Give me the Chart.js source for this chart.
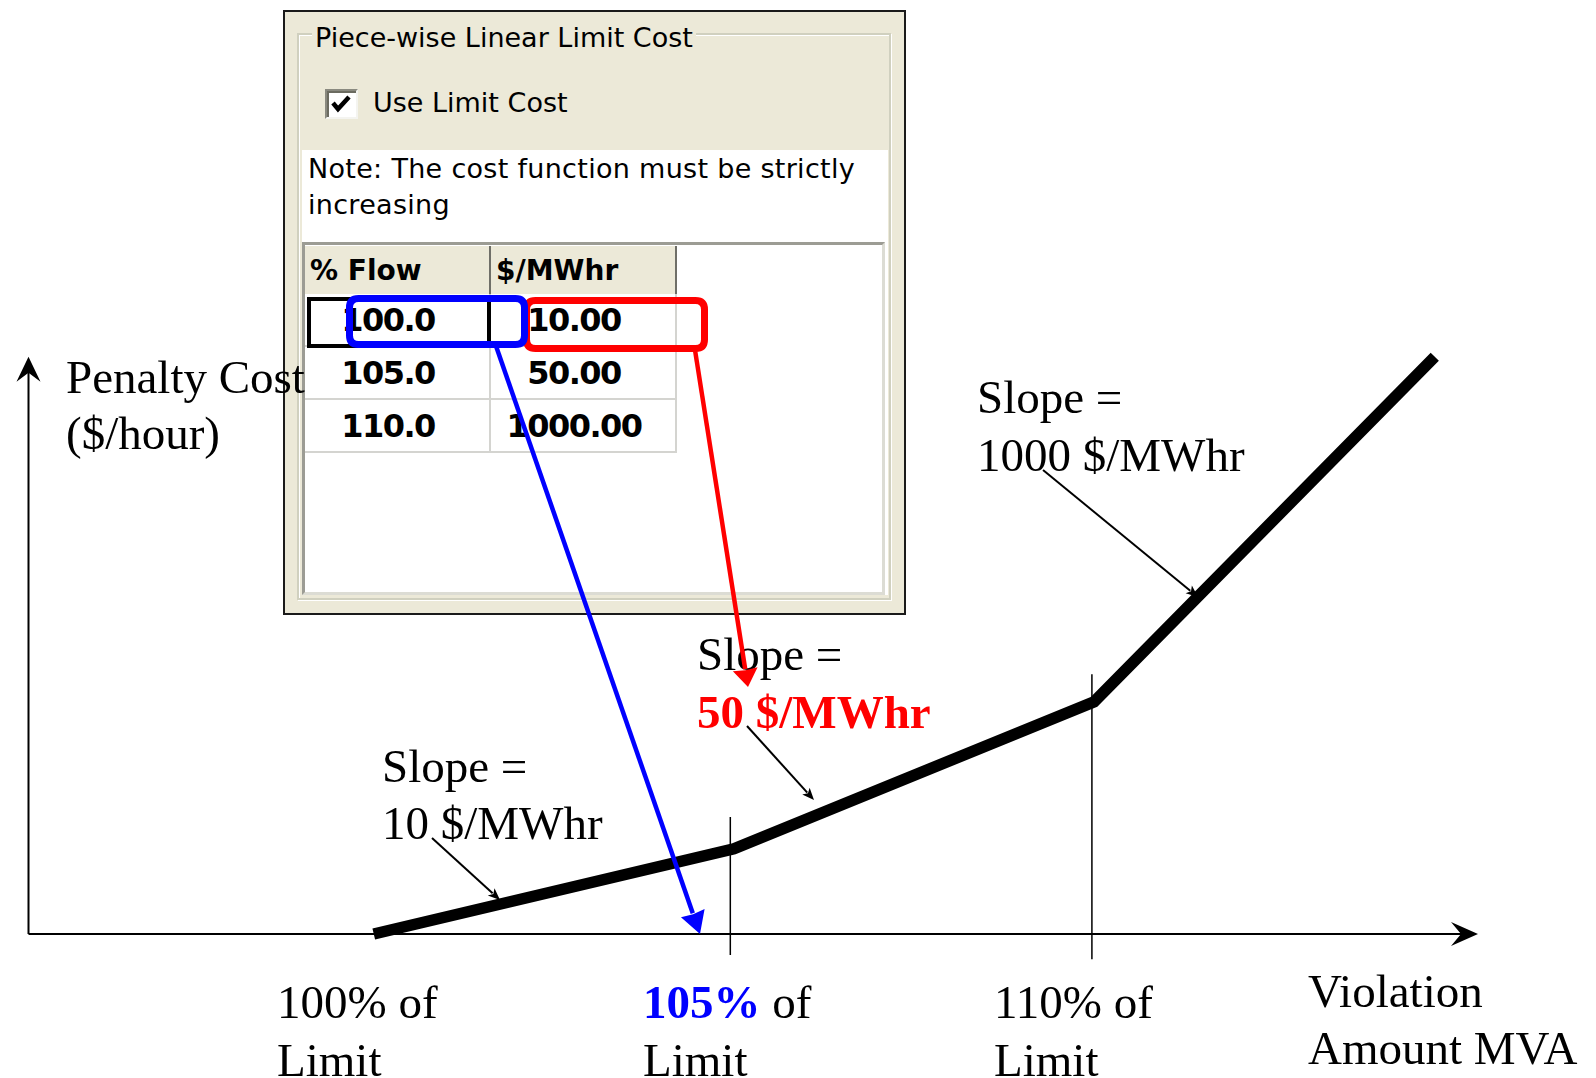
<!DOCTYPE html>
<html>
<head>
<meta charset="utf-8">
<script src="https://cdn.jsdelivr.net/npm/chart.js@4.4.1/dist/chart.umd.min.js"></script>
<style>
  html, body { margin: 0; padding: 0; background: #fff; }
  #wrap { position: relative; width: 1596px; height: 1078px; overflow: hidden; }
  #chart { position: absolute; left: 0; top: 0; z-index: 2; pointer-events: none; }
  .dlg { position: absolute; left: 283px; top: 10px; width: 619px; height: 601px;
         background: #ECE9D8; border: 2px solid #1a1a1a; z-index: 1;
         font-family: "DejaVu Sans", sans-serif; color: #000; }
  .dlg div { position: absolute; box-sizing: border-box; }
  .group { left: 12px; top: 21px; width: 594px; height: 567px;
           border: 2px solid #D0D0BF; box-shadow: inset 1px 1px 0 #fff, 1px 1px 0 #fff; }
  .title { left: 27px; top: 11px; height: 30px; line-height: 30px; font-size: 27px;
           padding: 0 3px; background: #ECE9D8; white-space: nowrap; }
  .chk { left: 40px; top: 77px; width: 33px; height: 30px; background: #fff;
         border: 2px solid; border-color: #8a8a80 #f4f4f0 #f4f4f0 #8a8a80;
         box-shadow: inset 2px 2px 0 #6b6b60; }
  .chklabel { left: 88px; top: 76px; line-height: 30px; font-size: 27px; white-space: nowrap; }
  .panel { left: 17px; top: 138px; width: 586px; height: 445px; background: #fff; }
  .note { left: 23px; top: 139px; font-size: 27px; line-height: 36px; white-space: nowrap; letter-spacing: 0.3px; }
  .grid { left: 17px; top: 230px; width: 583px; height: 353px; background: #fff;
          border: 3px solid; border-color: #9c9c94 #dcdcd4 #dcdcd4 #9c9c94; }
  .cell { font-weight: bold; white-space: nowrap; display: flex; align-items: center; }
  .hdr { background: #ECE9D8; border-right: 2px solid #6f6f68; padding-left: 5px; font-size: 28px; }
  .dat { border-right: 2px solid #d4d4d0; border-bottom: 2px solid #d4d4d0;
         justify-content: center; padding-right: 18px; font-size: 32px; letter-spacing: -1.5px; }
  .focus { border: 4px solid #000; }
</style>
</head>
<body>
<div id="wrap">
  <div class="dlg" id="dlg">
    <div class="group"></div>
    <div class="title">Piece-wise Linear Limit Cost</div>
    <div class="chk">
      <svg width="29" height="26" viewBox="0 0 29 26" style="position:absolute;left:0;top:0">
        <polyline points="6,12 11,18 22,6" fill="none" stroke="#000" stroke-width="4.5"/>
      </svg>
    </div>
    <div class="chklabel">Use Limit Cost</div>
    <div class="panel"></div>
    <div class="note">Note: The cost function must be strictly<br>increasing</div>
    <div class="grid"></div>
  </div>
  <canvas id="chart" width="1596" height="1078"></canvas>
</div>
<script>
// Penalty cost curve: % of limit vs. penalty cost (schematic units)
const limitPct = [100, 105, 110, 114.73];
const penaltyCost = [0, 14.2, 38.7, 96.2];

// Breakpoint marker lines on the horizontal axis
const breakpointPct = [104.95, 109.97];
const breakpointTop = [19.5, 43.3];
const breakpointBottom = [-3.5, -4.2];

// Cost table shown in the limit-cost dialog
const tableHeaders = ['% Flow', '$/MWhr'];
const tableFlow = ['100.0', '105.0', '110.0'];
const tableCost = ['10.00', '50.00', '1000.00'];

// Text labels
const yAxisTitle = ['Penalty Cost', '($/hour)'];
const xAxisTitle = ['Violation', 'Amount MVA'];
const slopeLabels = ['10 $/MWhr', '50 $/MWhr', '1000 $/MWhr'];
const limitLabels = ['100%', '105%', '110%'];

// ---- build the table cells ----
(function buildTable() {
  const dlg = document.getElementById('dlg');
  const colX = [20, 206];
  const colW = 186;
  const add = (cls, x, y, w, h, text) => {
    const d = document.createElement('div');
    d.className = cls;
    d.style.left = x + 'px'; d.style.top = y + 'px';
    d.style.width = w + 'px'; d.style.height = h + 'px';
    if (text !== undefined) d.textContent = text;
    dlg.appendChild(d);
    return d;
  };
  tableHeaders.forEach((h, i) => add('cell hdr', colX[i], 234, colW, 48, h));
  const rowY = [282, 335, 388];
  tableFlow.forEach((v, r) => {
    add('cell dat', colX[0], rowY[r], colW, 53, v);
    add('cell dat', colX[1], rowY[r], colW, 53, tableCost[r]);
  });
  add('focus', 22, 285, 184, 51);
})();

// ---- drawing helpers ----
function stealthArrow(ctx, x0, y0, x1, y1, len, half, notch) {
  const a = Math.atan2(y1 - y0, x1 - x0);
  const c = Math.cos(a), s = Math.sin(a);
  ctx.beginPath();
  ctx.moveTo(x1, y1);
  ctx.lineTo(x1 - len * c + half * s, y1 - len * s - half * c);
  ctx.lineTo(x1 - notch * c, y1 - notch * s);
  ctx.lineTo(x1 - len * c - half * s, y1 - len * s + half * c);
  ctx.closePath();
  ctx.fill();
}
function arrowLine(ctx, x0, y0, x1, y1, color, width, len, half, notch) {
  const a = Math.atan2(y1 - y0, x1 - x0);
  ctx.save();
  ctx.strokeStyle = color; ctx.fillStyle = color; ctx.lineWidth = width;
  ctx.beginPath();
  ctx.moveTo(x0, y0);
  ctx.lineTo(x1 - (notch + 1) * Math.cos(a), y1 - (notch + 1) * Math.sin(a));
  ctx.stroke();
  stealthArrow(ctx, x0, y0, x1, y1, len, half, notch);
  ctx.restore();
}
function roundRect(ctx, x, y, w, h, r) {
  ctx.beginPath();
  ctx.moveTo(x + r, y);
  ctx.lineTo(x + w - r, y); ctx.quadraticCurveTo(x + w, y, x + w, y + r);
  ctx.lineTo(x + w, y + h - r); ctx.quadraticCurveTo(x + w, y + h, x + w - r, y + h);
  ctx.lineTo(x + r, y + h); ctx.quadraticCurveTo(x, y + h, x, y + h - r);
  ctx.lineTo(x, y + r); ctx.quadraticCurveTo(x, y, x + r, y);
  ctx.closePath();
}

const SERIF = '"Liberation Serif", "Times New Roman", serif';

const diagramPlugin = {
  id: 'diagram',
  beforeDatasetsDraw(chart) {
    const { ctx, chartArea, scales } = chart;
    const y0 = scales.y.getPixelForValue(0);
    const xLeft = chartArea.left + 0.5;
    const yTip = scales.y.getPixelForValue(penaltyCost[penaltyCost.length - 1]);
    ctx.save();
    ctx.strokeStyle = '#000'; ctx.fillStyle = '#000'; ctx.lineWidth = 2;
    // vertical axis
    ctx.beginPath(); ctx.moveTo(xLeft, y0); ctx.lineTo(xLeft, yTip + 14); ctx.stroke();
    stealthArrow(ctx, xLeft, y0, xLeft, yTip, 25, 12, 16);
    // horizontal axis
    ctx.beginPath(); ctx.moveTo(xLeft, y0); ctx.lineTo(chartArea.right - 16, y0); ctx.stroke();
    stealthArrow(ctx, xLeft, y0, chartArea.right, y0, 27, 12, 17);
    ctx.restore();
  },
  afterDatasetsDraw(chart) {
    const { ctx } = chart;
    ctx.save();
    ctx.textBaseline = 'alphabetic';
    ctx.textAlign = 'left';
    const reg = '47px ' + SERIF;
    const bold = 'bold 47px ' + SERIF;
    const txt = (t, x, y, font, color) => {
      ctx.font = font || reg; ctx.fillStyle = color || '#000'; ctx.fillText(t, x, y);
      return ctx.measureText(t).width;
    };
    // axis titles
    txt(yAxisTitle[0], 66, 393);
    txt(yAxisTitle[1], 66, 449);
    txt(xAxisTitle[0], 1308, 1007);
    txt(xAxisTitle[1], 1308, 1064);
    // slope callouts
    txt('Slope =', 382, 782);  txt(slopeLabels[0], 382, 839);
    txt('Slope =', 697, 670);  txt(slopeLabels[1], 697, 728, bold, '#ff0000');
    txt('Slope =', 977, 413);  txt(slopeLabels[2], 977, 471);
    // limit labels under the axis
    const lx = [277, 643, 994];
    limitLabels.forEach((l, i) => {
      let w;
      if (i === 1) w = txt(l, lx[i], 1018, bold, '#0000ff');
      else w = txt(l, lx[i], 1018);
      txt(' of', lx[i] + w, 1018);
      txt('Limit', lx[i], 1076);
    });
    // leader arrows from callouts to the curve segments
    arrowLine(ctx, 432, 838, 500, 900, '#000', 2, 12, 5, 9);
    arrowLine(ctx, 747, 726, 814, 800, '#000', 2, 12, 5, 9);
    arrowLine(ctx, 1043, 470, 1198, 597, '#000', 2, 12, 5, 9);
    // highlight boxes on the table's first row
    ctx.lineWidth = 7; ctx.lineJoin = 'round';
    ctx.strokeStyle = '#ff0000';
    roundRect(ctx, 526.5, 300.5, 178, 48, 9); ctx.stroke();
    ctx.strokeStyle = '#0000ff';
    roundRect(ctx, 349.5, 298.5, 175, 46, 9); ctx.stroke();
    // connectors from table to diagram
    arrowLine(ctx, 695, 350, 748, 687, '#ff0000', 4.5, 18, 12.5, 17);
    arrowLine(ctx, 496, 346, 700, 934, '#0000ff', 4.5, 22, 12.5, 21);
    ctx.restore();
  }
};

const costSeries = limitPct.map((x, i) => ({ x, y: penaltyCost[i] }));
const breakpointSets = breakpointPct.map((x, i) => ({
  data: [{ x, y: breakpointTop[i] }, { x, y: breakpointBottom[i] }],
  showLine: true, borderColor: '#000', borderWidth: 1.5, pointRadius: 0, order: 2
}));

new Chart(document.getElementById('chart').getContext('2d'), {
  type: 'scatter',
  data: {
    datasets: [
      { data: costSeries, showLine: true, borderColor: '#000', borderWidth: 11.5,
        pointRadius: 0, borderJoinStyle: 'miter', borderCapStyle: 'butt', clip: false, order: 1 },
      ...breakpointSets
    ]
  },
  options: {
    responsive: false,
    animation: false,
    devicePixelRatio: 1,
    events: [],
    layout: { padding: { left: 28, right: 118, top: 334, bottom: 108 } },
    plugins: { legend: { display: false }, tooltip: { enabled: false } },
    scales: {
      x: { type: 'linear', min: 95.2, max: 115.33, display: false },
      y: { type: 'linear', min: -6, max: 100, display: false }
    }
  },
  plugins: [diagramPlugin]
});
</script>
</body>
</html>
